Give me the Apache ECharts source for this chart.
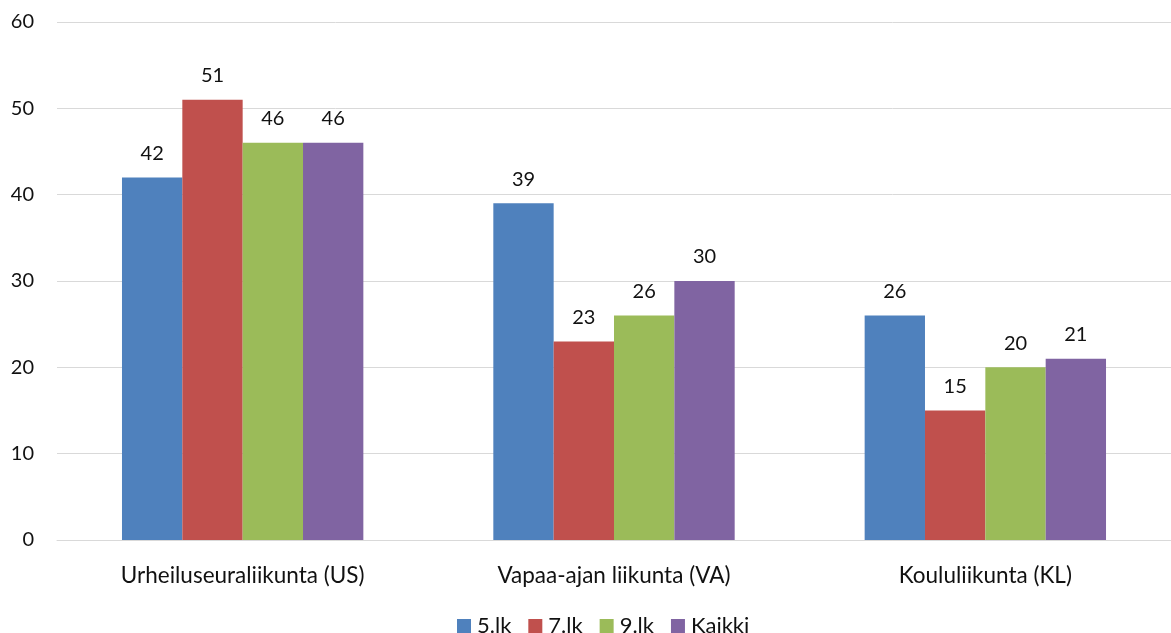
<!DOCTYPE html>
<html>
<head>
<meta charset="utf-8">
<script src="https://cdn.jsdelivr.net/npm/echarts@6/dist/echarts.min.js"></script>
<style>html,body{margin:0;padding:0;background:#fff}#c{width:1171px;height:633px}</style>
</head>
<body>
<div id="c"></div>
<script>
const categories = ['Urheiluseuraliikunta (US)', 'Vapaa-ajan liikunta (VA)', 'Koululiikunta (KL)'];
const seriesNames = ['5.lk', '7.lk', '9.lk', 'Kaikki'];
const lk5 = [42, 39, 26];
const lk7 = [51, 23, 15];
const lk9 = [46, 26, 20];
const kaikki = [46, 30, 21];
const yTicks = [0, 10, 20, 30, 40, 50, 60];
const colors = ['#4F81BD', '#C0504D', '#9BBB59', '#8064A2'];

const FONT = 'Lato';
const TXT = '#111111';
const chart = echarts.init(document.getElementById('c'));
const data = [lk5, lk7, lk9, kaikki];
chart.setOption({
  animation: false,
  color: colors,
  textStyle: { fontFamily: FONT },
  grid: { left: 57, right: 0, top: 22, bottom: 93, containLabel: false },
  legend: {
    data: seriesNames,
    top: 615,
    left: 457,
    padding: 0,
    itemWidth: 14,
    itemHeight: 14,
    itemGap: 17,
    icon: 'rect',
    textStyle: { fontFamily: FONT, fontSize: 22, color: TXT, padding: [0, 0, 0, 1] }
  },
  xAxis: {
    type: 'category',
    data: categories,
    axisLine: { show: true, lineStyle: { color: '#D9D9D9', width: 1 } },
    axisTick: { show: false },
    axisLabel: { fontFamily: FONT, fontSize: 22.5, color: TXT, margin: 24 }
  },
  yAxis: {
    type: 'value',
    min: yTicks[0],
    max: yTicks[yTicks.length - 1],
    interval: 10,
    axisLine: { show: false },
    axisTick: { show: false },
    splitLine: { lineStyle: { color: '#D9D9D9', width: 1 } },
    axisLabel: { fontFamily: FONT, fontSize: 20, color: TXT, margin: 23 }
  },
  series: seriesNames.map((n, i) => ({
    name: n,
    type: 'bar',
    data: data[i],
    barGap: '0%',
    barCategoryGap: '35%',
    label: { show: true, position: 'top', distance: 14, fontFamily: FONT, fontSize: 20, color: TXT }
  }))
});
</script>
</body>
</html>
